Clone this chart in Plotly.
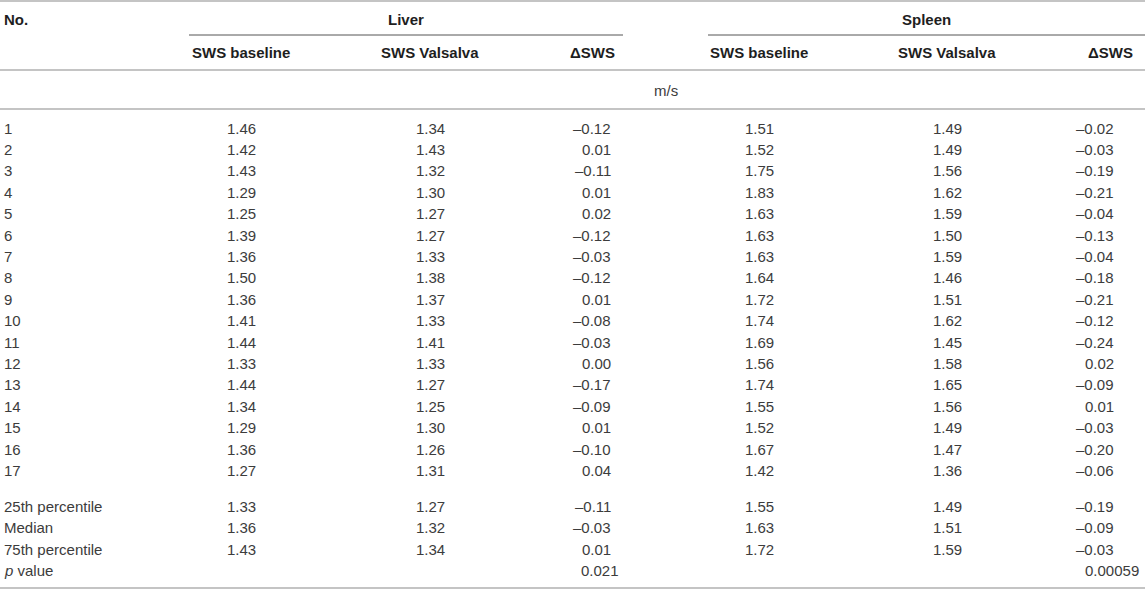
import plotly.graph_objects as go

# table data
case_no = [str(i) for i in range(1, 18)]
liver_base = [1.46, 1.42, 1.43, 1.29, 1.25, 1.39, 1.36, 1.50, 1.36, 1.41, 1.44, 1.33, 1.44, 1.34, 1.29, 1.36, 1.27]
liver_vals = [1.34, 1.43, 1.32, 1.30, 1.27, 1.27, 1.33, 1.38, 1.37, 1.33, 1.41, 1.33, 1.27, 1.25, 1.30, 1.26, 1.31]
liver_delta = [-0.12, 0.01, -0.11, 0.01, 0.02, -0.12, -0.03, -0.12, 0.01, -0.08, -0.03, 0.00, -0.17, -0.09, 0.01, -0.10, 0.04]
spleen_base = [1.51, 1.52, 1.75, 1.83, 1.63, 1.63, 1.63, 1.64, 1.72, 1.74, 1.69, 1.56, 1.74, 1.55, 1.52, 1.67, 1.42]
spleen_vals = [1.49, 1.49, 1.56, 1.62, 1.59, 1.50, 1.59, 1.46, 1.51, 1.62, 1.45, 1.58, 1.65, 1.56, 1.49, 1.47, 1.36]
spleen_delta = [-0.02, -0.03, -0.19, -0.21, -0.04, -0.13, -0.04, -0.18, -0.21, -0.12, -0.24, 0.02, -0.09, 0.01, -0.03, -0.20, -0.06]

summary_labels = ["25th percentile", "Median", "75th percentile"]
liver_base_sum = [1.33, 1.36, 1.43]
liver_vals_sum = [1.27, 1.32, 1.34]
liver_delta_sum = [-0.11, -0.03, 0.01]
spleen_base_sum = [1.55, 1.63, 1.72]
spleen_vals_sum = [1.49, 1.51, 1.59]
spleen_delta_sum = [-0.19, -0.09, -0.03]
p_values = ["0.021", "0.00059"]

W, H = 1145, 591
FONT = "Liberation Sans, Arial, Helvetica, sans-serif"
FS = 15
TXT = "#3c3c3c"
BOLD = "#1e1e1e"
DIGIT = FS * 0.556

# column anchors (pixels)
col_no = 2
liver_cols = [241, 430, 613]
spleen_cols = [759, 947, 1116]

row_y0, pitch = 128, 21.4
sum_y0 = 506.5


def fmt(v):
    return f"{v:.2f}".replace("-", "–")


ann = []


def cell(x, y, text, anchor="center", bold=False):
    ann.append(dict(x=x, y=y, xref="x", yref="y", text=text, showarrow=False,
                    xanchor=anchor, yanchor="middle",
                    font=dict(family=FONT, size=FS, color=BOLD if bold else TXT)))


def decimal_cell(x, y, text):
    extra = len(text.split(".")[1]) - 2
    cell(x + extra * DIGIT, y, text, anchor="right")


# header
cell(col_no, 19.5, "<b>No.</b>", "left", True)
cell((189 + 623) / 2, 19.5, "<b>Liver</b>", bold=True)
cell((708 + 1145) / 2, 19.5, "<b>Spleen</b>", bold=True)
for cols, rshift in [(liver_cols, 4), (spleen_cols, 19)]:
    cell(cols[0], 52, "<b>SWS baseline</b>", bold=True)
    cell(cols[1], 52, "<b>SWS Valsalva</b>", bold=True)
    cell(cols[2] + rshift, 52, "<b>ΔSWS</b>", "right", True)
cell(666, 90, "m/s")

# patient rows
for i, n in enumerate(case_no):
    y = row_y0 + i * pitch
    cell(col_no, y, n, "left")
    for cols, b, v, d in [(liver_cols, liver_base, liver_vals, liver_delta),
                          (spleen_cols, spleen_base, spleen_vals, spleen_delta)]:
        cell(cols[0], y, fmt(b[i]))
        cell(cols[1], y, fmt(v[i]))
        decimal_cell(cols[2], y, fmt(d[i]))

# summary rows
for i, lab in enumerate(summary_labels):
    y = sum_y0 + i * pitch
    cell(col_no, y, lab, "left")
    for cols, b, v, d in [(liver_cols, liver_base_sum, liver_vals_sum, liver_delta_sum),
                          (spleen_cols, spleen_base_sum, spleen_vals_sum, spleen_delta_sum)]:
        cell(cols[0], y, fmt(b[i]))
        cell(cols[1], y, fmt(v[i]))
        decimal_cell(cols[2], y, fmt(d[i]))

y_p = sum_y0 + 3 * pitch
cell(col_no, y_p, "<i>p</i> value", "left")
decimal_cell(liver_cols[2], y_p, p_values[0])
decimal_cell(spleen_cols[2], y_p, p_values[1])

# rules
shapes = []
grey = dict(color="#c4c4c4", width=2)
for y in [1, 70, 109, 588]:
    shapes.append(dict(type="line", xref="x", yref="y", x0=0, x1=W, y0=y, y1=y, line=grey))
for x0, x1 in [(189, 623), (708, 1145)]:
    shapes.append(dict(type="line", xref="x", yref="y", x0=x0, x1=x1, y0=35, y1=35,
                       line=dict(color="#555555", width=1)))

fig = go.Figure()
fig.add_trace(go.Scatter(x=[0, W], y=[0, H], mode="markers", marker=dict(opacity=0),
                         hoverinfo="skip", showlegend=False))
fig.update_layout(width=W, height=H, margin=dict(l=0, r=0, t=0, b=0),
                  paper_bgcolor="white", plot_bgcolor="white",
                  annotations=ann, shapes=shapes, showlegend=False)
fig.update_xaxes(range=[0, W], visible=False, fixedrange=True)
fig.update_yaxes(range=[H, 0], visible=False, fixedrange=True)
fig.write_html("out.html", config={"displayModeBar": False},
               post_script="document.body.style.margin='0';document.body.style.overflow='hidden';")
